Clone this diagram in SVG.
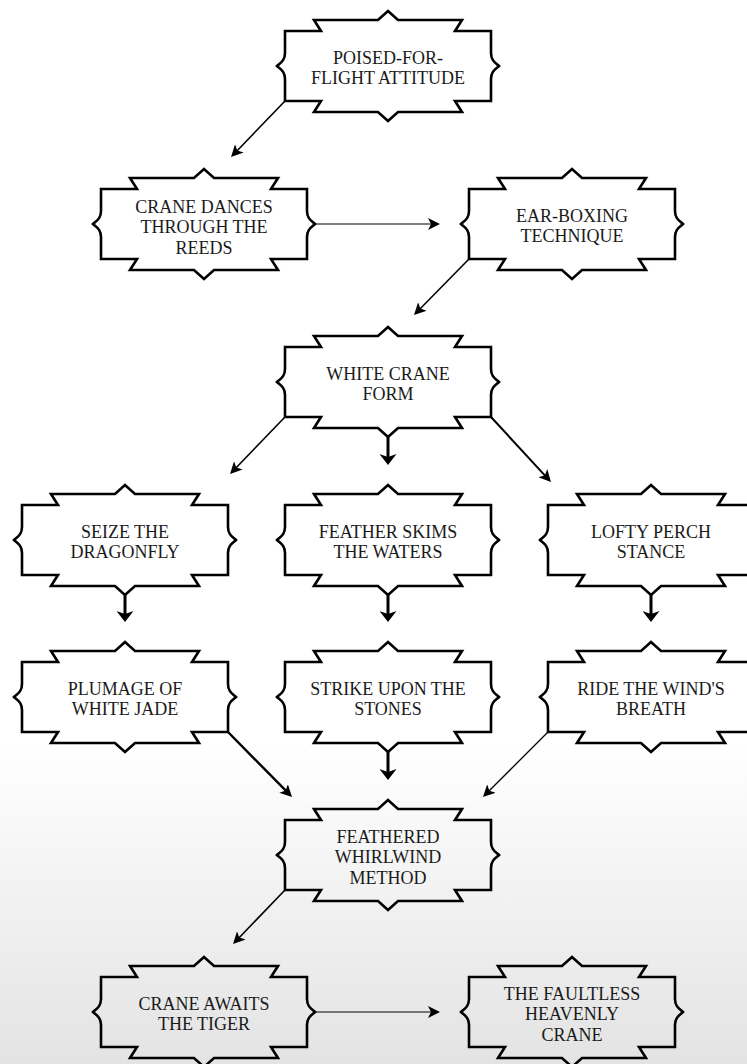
<svg xmlns="http://www.w3.org/2000/svg" xmlns:xlink="http://www.w3.org/1999/xlink" width="747" height="1064" viewBox="0 0 747 1064">
<defs>
<style>
.node{fill:none;stroke:#000;stroke-width:2.6;stroke-linejoin:miter;stroke-miterlimit:10}
.lbl{font-family:"Liberation Serif","DejaVu Serif",serif;font-size:18px;fill:#1a1a1a;text-anchor:middle}
.edge{fill:none;stroke:#000}
</style>
<linearGradient id="bg" x1="0" y1="0" x2="0" y2="1064" gradientUnits="userSpaceOnUse">
<stop offset="0" stop-color="#ffffff"/>
<stop offset="0.70" stop-color="#ffffff"/>
<stop offset="1" stop-color="#e3e3e3"/>
</linearGradient>
<path id="shape" d="M-103,-35 H-67 L-74,-46 H-10 L0,-55 L10,-46 H74 L67,-35 H103 V-13 C103,-5 108,-3 111,0 C108,3 103,5 103,13 V35 H67 L74,46 H10 L0,55 L-10,46 H-74 L-67,35 H-103 V13 C-103,5 -108,3 -111,0 C-108,-3 -103,-5 -103,-13 Z"/>
<marker id="ah" markerUnits="userSpaceOnUse" viewBox="0 0 12 12" markerWidth="12" markerHeight="12" refX="6" refY="6" orient="auto">
<path d="M0,0 L12,6 L0,12 L3,6 Z" fill="#000"/>
</marker>
<marker id="ahb" markerUnits="userSpaceOnUse" viewBox="0 0 11 17" markerWidth="11" markerHeight="17" refX="5" refY="8.5" orient="auto">
<path d="M0,0 L11,8.5 L0,17 L3,8.5 Z" fill="#000"/>
</marker>
</defs>
<rect x="0" y="0" width="747" height="1064" fill="url(#bg)"/>

<g id="connectors">
<path class="edge" stroke-width="1.6" d="M285,101 L235.2,152.7" marker-end="url(#ah)"/>
<path class="edge" stroke-width="1" d="M315,224 L434,224" marker-end="url(#ah)"/>
<path class="edge" stroke-width="1.6" d="M469,259 L418.2,310.7" marker-end="url(#ah)"/>
<path class="edge" stroke-width="1.6" d="M285,417 L234.2,469.7" marker-end="url(#ah)"/>
<path class="edge" stroke-width="3" d="M388,437 L388,459" marker-end="url(#ahb)"/>
<path class="edge" stroke-width="2" d="M491,417 L546.9,477.6" marker-end="url(#ah)"/>
<path class="edge" stroke-width="3" d="M125,595 L125,616" marker-end="url(#ahb)"/>
<path class="edge" stroke-width="3" d="M388,595 L388,616" marker-end="url(#ahb)"/>
<path class="edge" stroke-width="3" d="M651,595 L651,616" marker-end="url(#ahb)"/>
<path class="edge" stroke-width="2.4" d="M228,732 L287.8,792.7" marker-end="url(#ah)"/>
<path class="edge" stroke-width="3" d="M388,752 L388,774" marker-end="url(#ahb)"/>
<path class="edge" stroke-width="1.3" d="M548,732 L487.2,792.8" marker-end="url(#ah)"/>
<path class="edge" stroke-width="1.6" d="M285,890 L237.2,939.7" marker-end="url(#ah)"/>
<path class="edge" stroke-width="1" d="M315,1012 L434,1012" marker-end="url(#ah)"/>
</g>

<g id="n1"><use xlink:href="#shape" class="node" x="388" y="66"/>
<text class="lbl"><tspan x="388" y="63.5">POISED-FOR-</tspan><tspan x="388" y="84">FLIGHT ATTITUDE</tspan></text></g>

<g id="n2"><use xlink:href="#shape" class="node" x="204" y="224"/>
<text class="lbl"><tspan x="204" y="212.5">CRANE DANCES</tspan><tspan x="204" y="233">THROUGH THE</tspan><tspan x="204" y="253.5">REEDS</tspan></text></g>

<g id="n3"><use xlink:href="#shape" class="node" x="572" y="224"/>
<text class="lbl"><tspan x="572" y="221.5">EAR-BOXING</tspan><tspan x="572" y="242">TECHNIQUE</tspan></text></g>

<g id="n4"><use xlink:href="#shape" class="node" x="388" y="382"/>
<text class="lbl"><tspan x="388" y="379.5">WHITE CRANE</tspan><tspan x="388" y="400">FORM</tspan></text></g>

<g id="n5"><use xlink:href="#shape" class="node" x="125" y="540"/>
<text class="lbl"><tspan x="125" y="537.5">SEIZE THE</tspan><tspan x="125" y="558">DRAGONFLY</tspan></text></g>

<g id="n6"><use xlink:href="#shape" class="node" x="388" y="540"/>
<text class="lbl"><tspan x="388" y="537.5">FEATHER SKIMS</tspan><tspan x="388" y="558">THE WATERS</tspan></text></g>

<g id="n7"><use xlink:href="#shape" class="node" x="651" y="540"/>
<text class="lbl"><tspan x="651" y="537.5">LOFTY PERCH</tspan><tspan x="651" y="558">STANCE</tspan></text></g>

<g id="n8"><use xlink:href="#shape" class="node" x="125" y="697"/>
<text class="lbl"><tspan x="125" y="694.5">PLUMAGE OF</tspan><tspan x="125" y="715">WHITE JADE</tspan></text></g>

<g id="n9"><use xlink:href="#shape" class="node" x="388" y="697"/>
<text class="lbl"><tspan x="388" y="694.5">STRIKE UPON THE</tspan><tspan x="388" y="715">STONES</tspan></text></g>

<g id="n10"><use xlink:href="#shape" class="node" x="651" y="697"/>
<text class="lbl"><tspan x="651" y="694.5">RIDE THE WIND'S</tspan><tspan x="651" y="715">BREATH</tspan></text></g>

<g id="n11"><use xlink:href="#shape" class="node" x="388" y="855"/>
<text class="lbl"><tspan x="388" y="842.5">FEATHERED</tspan><tspan x="388" y="863">WHIRLWIND</tspan><tspan x="388" y="883.5">METHOD</tspan></text></g>

<g id="n12"><use xlink:href="#shape" class="node" x="204" y="1012"/>
<text class="lbl"><tspan x="204" y="1009.5">CRANE AWAITS</tspan><tspan x="204" y="1030">THE TIGER</tspan></text></g>

<g id="n13"><use xlink:href="#shape" class="node" x="572" y="1012"/>
<text class="lbl"><tspan x="572" y="999.5">THE FAULTLESS</tspan><tspan x="572" y="1020">HEAVENLY</tspan><tspan x="572" y="1040.5">CRANE</tspan></text></g>
</svg>
